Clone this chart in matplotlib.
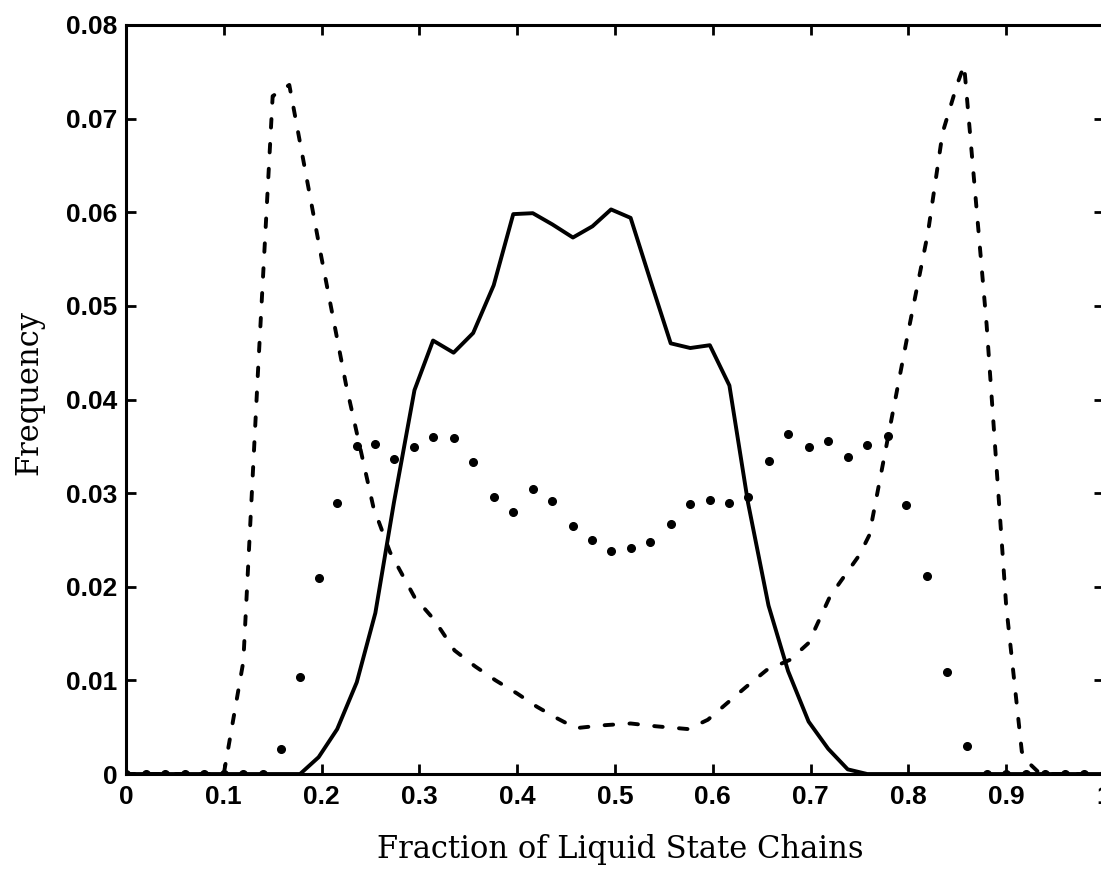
import matplotlib
matplotlib.use('Agg')
import matplotlib.pyplot as plt

# sample points shared by the solid curve and the dotted series
frac = [0.000, 0.020, 0.040, 0.060, 0.080, 0.100, 0.120, 0.140,
        0.159, 0.178, 0.197, 0.216, 0.236, 0.255, 0.274, 0.295, 0.314, 0.335,
        0.355, 0.376, 0.396, 0.416, 0.436, 0.457, 0.477, 0.496, 0.516, 0.536,
        0.557, 0.577, 0.597, 0.617, 0.636, 0.657, 0.677, 0.698, 0.718, 0.738,
        0.758, 0.779, 0.798, 0.819, 0.840, 0.860,
        0.880, 0.900, 0.920, 0.940, 0.960, 0.980, 1.000]

solid_freq = [0, 0, 0, 0, 0, 0, 0, 0,
              0, 0, 0.0018, 0.0048, 0.0098, 0.0172, 0.0290, 0.0410, 0.0463, 0.0450,
              0.0471, 0.0522, 0.0598, 0.0599, 0.0587, 0.0573, 0.0585, 0.0603, 0.0594, 0.0528,
              0.0460, 0.0455, 0.0458, 0.0415, 0.0290, 0.0180, 0.0110, 0.0056, 0.0027, 0.0005,
              0, 0, 0, 0, 0, 0,
              0, 0, 0, 0, 0, 0, 0]

dot_freq = [0, 0, 0, 0, 0, 0, 0, 0,
            0.0027, 0.0104, 0.0209, 0.0290, 0.0350, 0.0353, 0.0337, 0.0349, 0.0360, 0.0359,
            0.0333, 0.0296, 0.0280, 0.0304, 0.0292, 0.0265, 0.0250, 0.0238, 0.0241, 0.0248,
            0.0267, 0.0288, 0.0293, 0.0290, 0.0296, 0.0334, 0.0363, 0.0349, 0.0356, 0.0339,
            0.0351, 0.0361, 0.0287, 0.0212, 0.0109, 0.0030,
            0, 0, 0, 0, 0, 0, 0]

# dashed curve (read separately, its points do not sit on the same grid)
dash_frac = [0.000, 0.100, 0.120, 0.135, 0.150, 0.167, 0.200, 0.225, 0.253, 0.270,
             0.295, 0.315, 0.336, 0.357, 0.378, 0.400, 0.420, 0.440, 0.460, 0.487,
             0.516, 0.542, 0.575, 0.595, 0.615, 0.634, 0.655, 0.679, 0.698, 0.720,
             0.750, 0.760, 0.800, 0.820, 0.835, 0.850, 0.857, 0.880, 0.900, 0.916,
             0.922, 0.935, 1.000]
dash_freq = [0, 0, 0.0120, 0.0430, 0.0724, 0.0736, 0.0551, 0.0416, 0.0285, 0.0237,
             0.0189, 0.0165, 0.0132, 0.0115, 0.0100, 0.0086, 0.0072, 0.0060, 0.0049, 0.0052,
             0.0054, 0.0051, 0.0048, 0.0058, 0.0076, 0.0093, 0.0111, 0.0122, 0.0140, 0.0190,
             0.0234, 0.0255, 0.0473, 0.0578, 0.0685, 0.0737, 0.0757, 0.0480, 0.0180, 0.0024,
             0.0013, 0, 0]

x_ticks = [0, 0.1, 0.2, 0.3, 0.4, 0.5, 0.6, 0.7, 0.8, 0.9, 1]
x_tick_labels = ['0', '0.1', '0.2', '0.3', '0.4', '0.5', '0.6', '0.7', '0.8', '0.9', '1']
y_ticks = [0, 0.01, 0.02, 0.03, 0.04, 0.05, 0.06, 0.07, 0.08]
y_tick_labels = ['0', '0.01', '0.02', '0.03', '0.04', '0.05', '0.06', '0.07', '0.08']

fig = plt.figure(figsize=(11.01, 8.83), dpi=100)
# the scan cuts off the right-hand frame, so the axes run past the figure edge
ax = fig.add_axes([0.1144, 0.1234, 0.8883, 0.8483])

ax.plot(frac, solid_freq, color='black', lw=2.8, solid_joinstyle='round')
ax.plot(dash_frac, dash_freq, color='black', lw=2.8, linestyle=(0, (2.2, 4.2)),
        dash_capstyle='round')
ax.plot(frac, dot_freq, linestyle='none', marker='o', markersize=5.5, color='black')

ax.set_xlim(0, 1)
ax.set_ylim(0, 0.08)
ax.set_xticks(x_ticks)
ax.set_xticklabels(x_tick_labels)
ax.set_yticks(y_ticks)
ax.set_yticklabels(y_tick_labels)

for side in ax.spines.values():
    side.set_linewidth(2.2)
ax.tick_params(direction='in', length=7, width=2, top=True, right=True)
ax.tick_params(axis='x', pad=8)
ax.tick_params(axis='y', pad=6)
for lab in ax.get_xticklabels() + ax.get_yticklabels():
    lab.set_fontfamily('Liberation Sans')
    lab.set_fontweight('bold')
    lab.set_fontsize(19)

fig.text(0.563, 0.028, 'Fraction of Liquid State Chains', ha='center', va='baseline',
         fontsize=22, family='DejaVu Serif')
fig.text(0.026, 0.555, 'Frequency', ha='center', va='center', rotation=90,
         fontsize=22, family='DejaVu Serif')

fig.savefig('out.png', dpi=100)
